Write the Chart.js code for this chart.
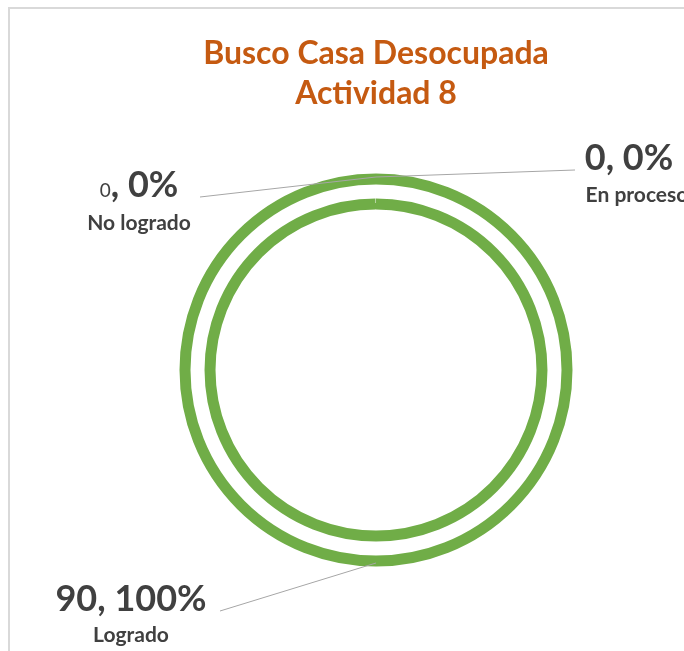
<!DOCTYPE html>
<html lang="es">
<head>
<meta charset="UTF-8">
<title>Busco Casa Desocupada</title>
<script src="https://cdn.jsdelivr.net/npm/chart.js"></script>
<style>
    html, body { margin: 0; padding: 0; overflow: hidden; background: #fff; }
    .frame { position: absolute; left: 8px; top: 7px; border-top: 2px solid #d9d9d9; border-left: 2px solid #d9d9d9; }
    canvas { display: block; }
</style>
</head>
<body>
<div class="frame"><canvas id="canvas" width="732" height="660"></canvas></div>
<script>
    // data
    const categories = ['No logrado', 'En proceso', 'Logrado'];
    const values = [0, 0, 90];
    const titleLines = ['Busco Casa Desocupada', 'Actividad 8'];

    const textColor = '#404040';
    const outerR = 191;
    const cutoutRatio = 0.869;
    const innerR = outerR * cutoutRatio;
    const ringGap = outerR - innerR;
    // only the two circles of the slice outline are stroked, the radial edges are skipped
    const outlineDash = [2 * Math.PI * outerR, ringGap, 2 * Math.PI * innerR, ringGap];

    // draws "value, pct%" + category name with a leader line to the ring
    const sliceLabels = {
        id: 'sliceLabels',
        afterDatasetsDraw(chart, args, opts) {
            const ctx = chart.ctx;
            const meta = chart.getDatasetMeta(0);
            const total = values.reduce((a, b) => a + b, 0);
            meta.data.forEach((arc, i) => {
                const p = opts.places[i];
                const mid = (arc.startAngle + arc.endAngle) / 2;
                const r = arc.outerRadius + 2;
                const ex = arc.x + Math.cos(mid) * r;
                const ey = arc.y + Math.sin(mid) * r;

                ctx.save();
                ctx.strokeStyle = '#a6a6a6';
                ctx.lineWidth = 1;
                ctx.beginPath();
                ctx.moveTo(p.lineX, p.lineY);
                ctx.lineTo(ex, ey);
                ctx.stroke();

                const pct = total > 0 ? Math.round(values[i] / total * 100) : 0;
                const bigFont = 'bold 36px Lato';
                const numFont = p.smallNumber ? '19px Lato' : bigFont;
                const parts = [[String(values[i]), numFont], [', ' + pct + '%', bigFont]];
                let w = 0;
                parts.forEach(([t, f]) => { ctx.font = f; w += ctx.measureText(t).width; });
                let x = p.x - w / 2;
                ctx.fillStyle = textColor;
                ctx.textBaseline = 'alphabetic';
                ctx.textAlign = 'left';
                parts.forEach(([t, f]) => {
                    ctx.font = f;
                    ctx.fillText(t, x, p.y);
                    x += ctx.measureText(t).width;
                });

                ctx.font = 'bold 21px Lato';
                ctx.textAlign = 'center';
                ctx.fillText(categories[i], p.nameX, p.nameY);
                ctx.restore();
            });
        }
    };

    const ctx = document.getElementById('canvas').getContext('2d');
    const chart = new Chart(ctx, {
        type: 'doughnut',
        data: {
            labels: categories,
            datasets: [{
                data: values,
                backgroundColor: '#ffffff',
                borderColor: '#70ad47',
                borderWidth: c => c.raw > 0 ? 11 : 0,
                borderAlign: 'center',
                borderDash: outlineDash
            }]
        },
        options: {
            responsive: false,
            animation: false,
            events: [],
            radius: outerR,
            cutout: (cutoutRatio * 100) + '%',
            layout: { padding: { bottom: 53 } },
            plugins: {
                legend: { display: false },
                tooltip: { enabled: false },
                title: {
                    display: true,
                    text: titleLines,
                    color: '#c55a11',
                    font: { family: 'Lato', size: 32, weight: 'bold', lineHeight: 1.25 },
                    padding: { top: 25, bottom: 10 }
                },
                sliceLabels: {
                    places: [
                        { x: 129, y: 188, nameX: 129, nameY: 221, lineX: 190, lineY: 188, smallNumber: true },
                        { x: 619, y: 161, nameX: 627, nameY: 193, lineX: 565, lineY: 161 },
                        { x: 121, y: 602, nameX: 121, nameY: 633, lineX: 210, lineY: 602 }
                    ]
                }
            }
        },
        plugins: [sliceLabels]
    });
</script>
</body>
</html>
